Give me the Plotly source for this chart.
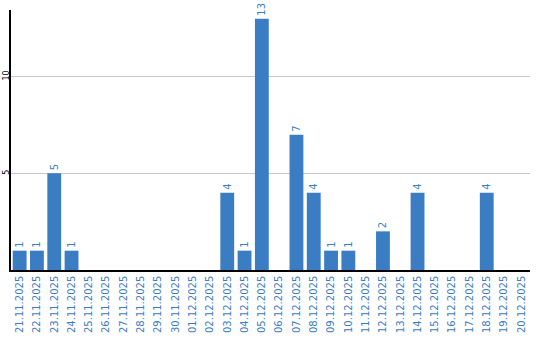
import plotly.graph_objects as go

dates = ["21.11.2025", "22.11.2025", "23.11.2025", "24.11.2025", "25.11.2025",
         "26.11.2025", "27.11.2025", "28.11.2025", "29.11.2025", "30.11.2025",
         "01.12.2025", "02.12.2025", "03.12.2025", "04.12.2025", "05.12.2025",
         "06.12.2025", "07.12.2025", "08.12.2025", "09.12.2025", "10.12.2025",
         "11.12.2025", "12.12.2025", "13.12.2025", "14.12.2025", "15.12.2025",
         "16.12.2025", "17.12.2025", "18.12.2025", "19.12.2025", "20.12.2025"]
counts = [1, 1, 5, 1, 0, 0, 0, 0, 0, 0,
          0, 0, 4, 1, 13, 0, 7, 4, 1, 1,
          0, 2, 0, 4, 0, 0, 0, 4, 0, 0]
y_ticks = [5, 10]

BLUE = "#3b7dc3"
labels = [str(v) if v else "" for v in counts]

fig = go.Figure(go.Bar(
    x=dates, y=counts, text=labels, textposition="outside", textangle=-90,
    textfont=dict(family="DejaVu Sans", size=10, color=BLUE),
    marker=dict(color=BLUE, line=dict(width=0)), cliponaxis=False,
))
fig.update_layout(
    width=540, height=340, margin=dict(l=11, r=10, t=10, b=70),
    plot_bgcolor="white", paper_bgcolor="white", bargap=0.2, showlegend=False,
    font=dict(family="DejaVu Sans"),
)
fig.update_xaxes(type="category", showline=True, linecolor="black", linewidth=1.5,
                 tickangle=-90, tickfont=dict(size=10, color=BLUE), ticks="",
                 showgrid=False, automargin=False)
fig.update_yaxes(range=[0, 13.45], tickvals=y_ticks, showline=True, linecolor="black",
                 linewidth=1.5, showgrid=True, gridcolor="#c8c8c8", zeroline=False,
                 tickangle=-90, tickfont=dict(size=8, color="black"), ticks="",
                 automargin=False, ticklabelstandoff=-3)
fig.write_html("out.html")
